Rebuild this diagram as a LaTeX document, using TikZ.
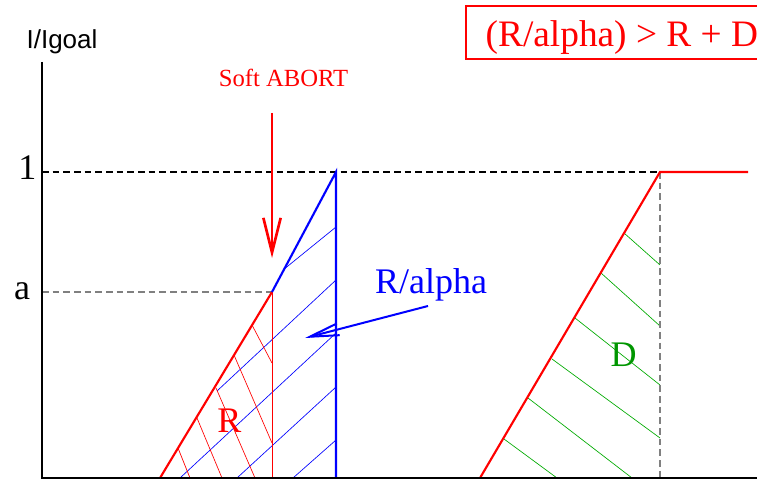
\documentclass[tikz,border=0pt]{standalone}
\usepackage{fontspec}
\setmainfont{Liberation Serif}
\newfontfamily\axisfont{Liberation Sans}
\usetikzlibrary{arrows.meta}

\definecolor{hatchgreen}{RGB}{0,170,0}
\definecolor{labelgreen}{RGB}{0,150,0}

\tikzset{
  bigtext/.style={font=\fontsize{27}{30}\selectfont},
  hatch/.style={line width=0.5pt},
  edge/.style={line width=1.6pt}
}

\begin{document}
\begin{tikzpicture}[x=0.75pt, y=-0.75pt, line width=1pt]
            \clip (0,0) rectangle (757,481);

            % Key points
            \coordinate (origin) at (42,478);
            \coordinate (ytop) at (42,62);
            \coordinate (xend) at (757,478);
            \coordinate (redfoot) at (160,478);
            \coordinate (apoint) at (272,292);
            \coordinate (afoot) at (272,478);
            \coordinate (bluetop) at (336,172);
            \coordinate (bluefoot) at (336,478);
            \coordinate (dfoot) at (480,478);
            \coordinate (dtop) at (660,172);
            \coordinate (dbase) at (660,478);
            \coordinate (dend) at (748,172);

            % Hatching
            \foreach \xa/\ya/\xb/\yb in {283/270/336/227, 217/391/336/280, 180/478/336/333,
                                         237/478/336/387, 293/478/336/440}
              \draw[blue, hatch] (\xa,\ya) -- (\xb,\yb);
            \foreach \xa/\ya/\xb/\yb in {252/325/272/363, 234/355/272/443, 216/388/255/478,
                                         197/418/222/478, 178/448/190/478}
              \draw[red, hatch] (\xa,\ya) -- (\xb,\yb);
            \foreach \xa/\ya/\xb/\yb in {624/233/660/265, 601/273/660/326, 575/318/660/385,
                                         552/359/660/438, 528/398/632/478, 504/439/557/478}
              \draw[hatchgreen, hatch] (\xa,\ya) -- (\xb,\yb);

            % Levels
            \draw[black, dashed, dash pattern=on 5pt off 3pt] (42,172) -- (dtop);
            \draw[gray, dashed, dash pattern=on 5pt off 3pt] (42,292) -- (apoint);
            \draw[gray, dashed, dash pattern=on 5pt off 3pt] (dtop) -- (dbase);

            % Curves
            \draw[red, line width=0.6pt] (apoint) -- (afoot);
            \draw[red, edge] (redfoot) -- (apoint);
            \draw[blue, edge] (apoint) -- (bluetop) -- (bluefoot);
            \draw[red, edge] (dfoot) -- (dtop) -- (dend);

            % Axes
            \draw[line width=1.2pt] (ytop) -- (origin) -- (xend);
            \node[font=\axisfont\fontsize{19.5}{22}\selectfont, anchor=base] (ylabel) at (62,49) {I/Igoal};
            \node[bigtext, anchor=base] (one) at (27.5,180) {1};
            \node[bigtext, anchor=base] (alevel) at (22,299) {a};

            % Labels
            \node[red, font=\fontsize{18.5}{21}\selectfont, anchor=base] (abort) at (283.5,87) {Soft ABORT};
            \coordinate (aborttop) at (272,113);
            \coordinate (aborttip) at (272,258);
            \draw[red, line width=2pt, -{Straight Barb[length=26pt, width=13pt]}] (aborttop) -- (aborttip);

            \node[blue, bigtext, anchor=base] (ralpha) at (431,293) {R/alpha};
            \coordinate (ralphatail) at (428,306);
            \coordinate (ralphatip) at (305,338);
            \draw[blue, line width=1.5pt, -{Straight Barb[length=22pt, width=9pt]}] (ralphatail) -- (ralphatip);

            \node[red, bigtext, anchor=base] (rlabel) at (229.5,432) {R};
            \node[labelgreen, bigtext, anchor=base] (dlabel) at (623.5,366) {D};

            % Condition box
            \draw[red, line width=1pt] (466,6) rectangle (800,59);
            \node[red, font=\fontsize{28}{31}\selectfont, anchor=base west, inner sep=0pt] (cond) at (485,47) {(R/alpha) > R + D};
        \end{tikzpicture}
\end{document}
